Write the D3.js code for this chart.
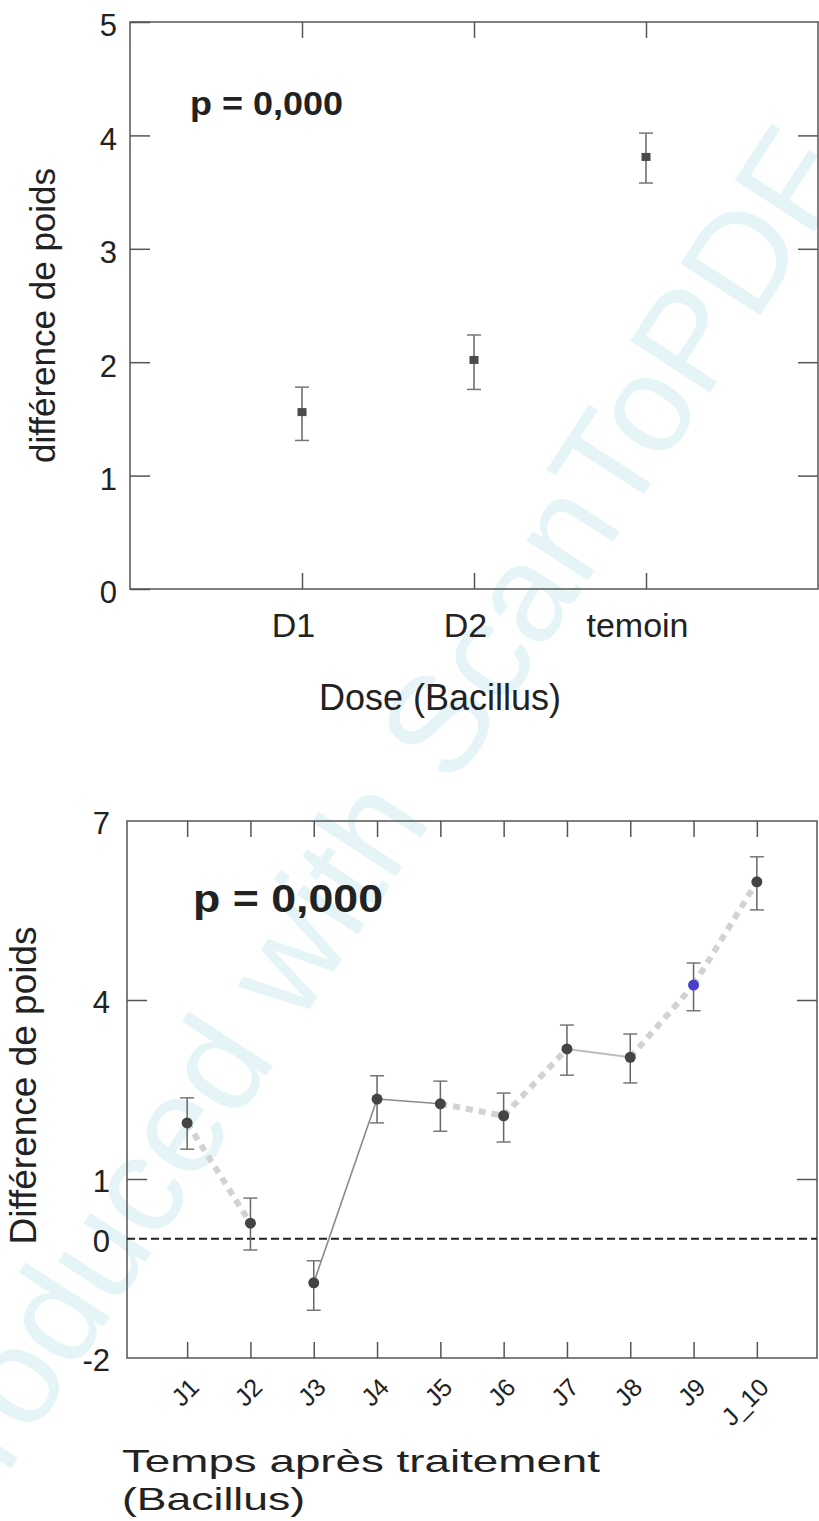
<!DOCTYPE html>
<html>
<head>
<meta charset="utf-8">
<script src="https://cdn.jsdelivr.net/npm/d3@7"></script>
<style>
  body { margin: 0; background: #fff; }
  text { font-family: "Liberation Sans", Arial, sans-serif; }
</style>
</head>
<body>
<script>
// chart 1 : dose
const doseCats = ["D1", "D2", "temoin"];
const doseMean = [1.56, 2.02, 3.81];
const doseLow = [1.31, 1.76, 3.58];
const doseHigh = [1.78, 2.24, 4.02];
const doseYTicks = [0, 1, 2, 3, 4, 5];

// chart 2 : days after treatment
const dayCats = ["J1", "J2", "J3", "J4", "J5", "J6", "J7", "J8", "J9", "J_10"];
const dayMean = [1.94, 0.26, -0.74, 2.34, 2.26, 2.06, 3.18, 3.04, 4.25, 5.98];
const dayLow = [1.50, -0.19, -1.20, 1.94, 1.80, 1.62, 2.74, 2.61, 3.82, 5.51];
const dayHigh = [2.36, 0.68, -0.37, 2.73, 2.64, 2.44, 3.58, 3.43, 4.62, 6.40];
const dayYTicks = [-2, 0, 1, 4, 7];
const dayTickMarks = [1, 4];
const segStyle = ["dot", "none", "solid", "solid", "dot", "dot", "light", "dot", "dot"];
const highlight = "J9";

let width = 819,
    height = 1521;

let svg = d3.select("body").append("svg")
    .attr("width", width)
    .attr("height", height);

// scanner watermark, behind everything
svg.append("text")
    .attr("transform", "translate(405,862) rotate(-57)")
    .attr("text-anchor", "middle")
    .attr("font-size", 138)
    .attr("fill", "#e4f4f7")
    .text("Produced with ScanToPDF");

function styleAxis(g, size) {
    g.select(".domain").remove();
    g.selectAll("line").attr("stroke", "#555").attr("stroke-width", 1.5);
    g.selectAll("text").attr("font-size", size).attr("fill", "#222")
        .attr("font-family", "Liberation Sans, Arial, sans-serif");
}

function errorBars(g, cats, x, y, low, high) {
    cats.forEach((c, i) => {
        g.append("line")
            .attr("x1", x(c)).attr("x2", x(c))
            .attr("y1", y(low[i])).attr("y2", y(high[i]))
            .attr("stroke", "#666").attr("stroke-width", 1.5);
        [low[i], high[i]].forEach(v => {
            g.append("line")
                .attr("x1", x(c) - 7).attr("x2", x(c) + 7)
                .attr("y1", y(v)).attr("y2", y(v))
                .attr("stroke", "#777").attr("stroke-width", 1.5);
        });
    });
}

// ---------- top chart ----------
let box1 = {left: 130, right: 818, top: 22, bottom: 589};

let xDose = d3.scalePoint()
    .domain(doseCats)
    .range([box1.left, box1.right])
    .padding(1);

let yDose = d3.scaleLinear()
    .domain([0, 5])
    .range([box1.bottom, box1.top]);

let g1 = svg.append("g");

g1.append("rect")
    .attr("x", box1.left).attr("y", box1.top)
    .attr("width", box1.right - box1.left).attr("height", box1.bottom - box1.top)
    .attr("fill", "none").attr("stroke", "#555").attr("stroke-width", 1.5);

g1.append("g")
    .attr("transform", `translate(${box1.left},0)`)
    .call(d3.axisLeft(yDose).tickValues(doseYTicks).tickSize(-20).tickPadding(13).tickFormat(d => String(d)))
    .call(g => styleAxis(g, 31))
    .selectAll("text").attr("dy", "0.45em");

g1.append("g")
    .attr("transform", `translate(${box1.right},0)`)
    .call(d3.axisRight(yDose).tickValues([1, 2, 3, 4]).tickSize(-20).tickFormat(""))
    .call(g => styleAxis(g, 30));

g1.append("g")
    .attr("transform", `translate(0,${box1.top})`)
    .call(d3.axisTop(xDose).tickSize(-16).tickFormat(""))
    .call(g => styleAxis(g, 30));

g1.append("g")
    .attr("transform", `translate(0,${box1.bottom})`)
    .call(d3.axisBottom(xDose).tickSize(-16).tickPadding(24))
    .call(g => styleAxis(g, 34))
    .selectAll("text").attr("dx", -9);

errorBars(g1, doseCats, xDose, yDose, doseLow, doseHigh);

g1.selectAll(".dose-pt")
    .data(doseCats)
    .enter()
    .append("rect")
    .attr("class", "dose-pt")
    .attr("x", d => xDose(d) - 4.5)
    .attr("y", (d, i) => yDose(doseMean[i]) - 4)
    .attr("width", 9).attr("height", 8)
    .attr("fill", "#4a4a4a");

g1.append("text")
    .attr("x", 190).attr("y", 115)
    .attr("font-size", 33).attr("font-weight", "bold").attr("fill", "#222")
    .attr("textLength", 153).attr("lengthAdjust", "spacingAndGlyphs")
    .text("p = 0,000");

g1.append("text")
    .attr("transform", `translate(55,${(box1.top + box1.bottom) / 2 + 10}) rotate(-90)`)
    .attr("text-anchor", "middle")
    .attr("font-size", 35).attr("fill", "#222")
    .text("différence de poids");

g1.append("text")
    .attr("x", 440).attr("y", 710)
    .attr("text-anchor", "middle")
    .attr("font-size", 36).attr("fill", "#222")
    .text("Dose (Bacillus)");

// ---------- bottom chart ----------
let box2 = {left: 127, right: 817, top: 821, bottom: 1358};

let xDay = d3.scalePoint()
    .domain(dayCats)
    .range([box2.left, box2.right])
    .padding(0.95);

let yDay = d3.scaleLinear()
    .domain([-2, 7])
    .range([box2.bottom, box2.top]);

let g2 = svg.append("g");

g2.append("rect")
    .attr("x", box2.left).attr("y", box2.top)
    .attr("width", box2.right - box2.left).attr("height", box2.bottom - box2.top)
    .attr("fill", "none").attr("stroke", "#555").attr("stroke-width", 1.5);

g2.append("g")
    .attr("transform", `translate(${box2.left},0)`)
    .call(d3.axisLeft(yDay).tickValues(dayYTicks).tickSize(0).tickPadding(17).tickFormat(d => String(d)))
    .call(g => styleAxis(g, 31))
    .selectAll("text").attr("dy", "0.4em");

g2.append("g")
    .attr("transform", `translate(${box2.left},0)`)
    .call(d3.axisLeft(yDay).tickValues(dayTickMarks).tickSize(-20).tickFormat(""))
    .call(g => styleAxis(g, 30));

g2.append("g")
    .attr("transform", `translate(${box2.right},0)`)
    .call(d3.axisRight(yDay).tickValues(dayTickMarks).tickSize(-20).tickFormat(""))
    .call(g => styleAxis(g, 30));

g2.append("g")
    .attr("transform", `translate(0,${box2.top})`)
    .call(d3.axisTop(xDay).tickSize(-16).tickFormat(""))
    .call(g => styleAxis(g, 30));

g2.append("g")
    .attr("transform", `translate(0,${box2.bottom})`)
    .call(d3.axisBottom(xDay).tickSize(-16))
    .call(g => styleAxis(g, 25))
    .selectAll("text")
    .attr("y", 0).attr("dy", 0)
    .attr("text-anchor", "end")
    .attr("transform", "translate(13,31) rotate(-45)");

// zero reference line
g2.append("line")
    .attr("x1", box2.left).attr("x2", box2.right)
    .attr("y1", yDay(0)).attr("y2", yDay(0))
    .attr("stroke", "#222").attr("stroke-width", 2)
    .attr("stroke-dasharray", "8,4");

// connecting segments
dayCats.slice(1).forEach((c, k) => {
    let st = segStyle[k];
    if (st === "none") return;
    let seg = g2.append("line")
        .attr("x1", xDay(dayCats[k])).attr("y1", yDay(dayMean[k]))
        .attr("x2", xDay(c)).attr("y2", yDay(dayMean[k + 1]));
    if (st === "dot") {
        seg.attr("stroke", "#d2d2d2").attr("stroke-width", 6).attr("stroke-dasharray", "7,6");
    } else if (st === "light") {
        seg.attr("stroke", "#bdbdbd").attr("stroke-width", 2);
    } else {
        seg.attr("stroke", "#8a8a8a").attr("stroke-width", 1.6);
    }
});

errorBars(g2, dayCats, xDay, yDay, dayLow, dayHigh);

g2.selectAll(".day-pt")
    .data(dayCats)
    .enter()
    .append("circle")
    .attr("class", "day-pt")
    .attr("cx", d => xDay(d))
    .attr("cy", (d, i) => yDay(dayMean[i]))
    .attr("r", 5.5)
    .attr("fill", d => d === highlight ? "#4a3fc8" : "#444");

g2.append("text")
    .attr("x", 193).attr("y", 912)
    .attr("font-size", 38).attr("font-weight", "bold").attr("fill", "#222")
    .attr("textLength", 190).attr("lengthAdjust", "spacingAndGlyphs")
    .text("p = 0,000");

g2.append("text")
    .attr("transform", `translate(36,${(box2.top + box2.bottom) / 2 - 4}) rotate(-90)`)
    .attr("text-anchor", "middle")
    .attr("font-size", 37).attr("fill", "#222")
    .text("Différence de poids");

g2.append("text")
    .attr("x", 122).attr("y", 1472)
    .attr("font-size", 32).attr("fill", "#222")
    .attr("textLength", 478).attr("lengthAdjust", "spacingAndGlyphs")
    .text("Temps après traitement");

g2.append("text")
    .attr("x", 122).attr("y", 1510)
    .attr("font-size", 32).attr("fill", "#222")
    .attr("textLength", 183).attr("lengthAdjust", "spacingAndGlyphs")
    .text("(Bacillus)");
</script>
</body>
</html>
